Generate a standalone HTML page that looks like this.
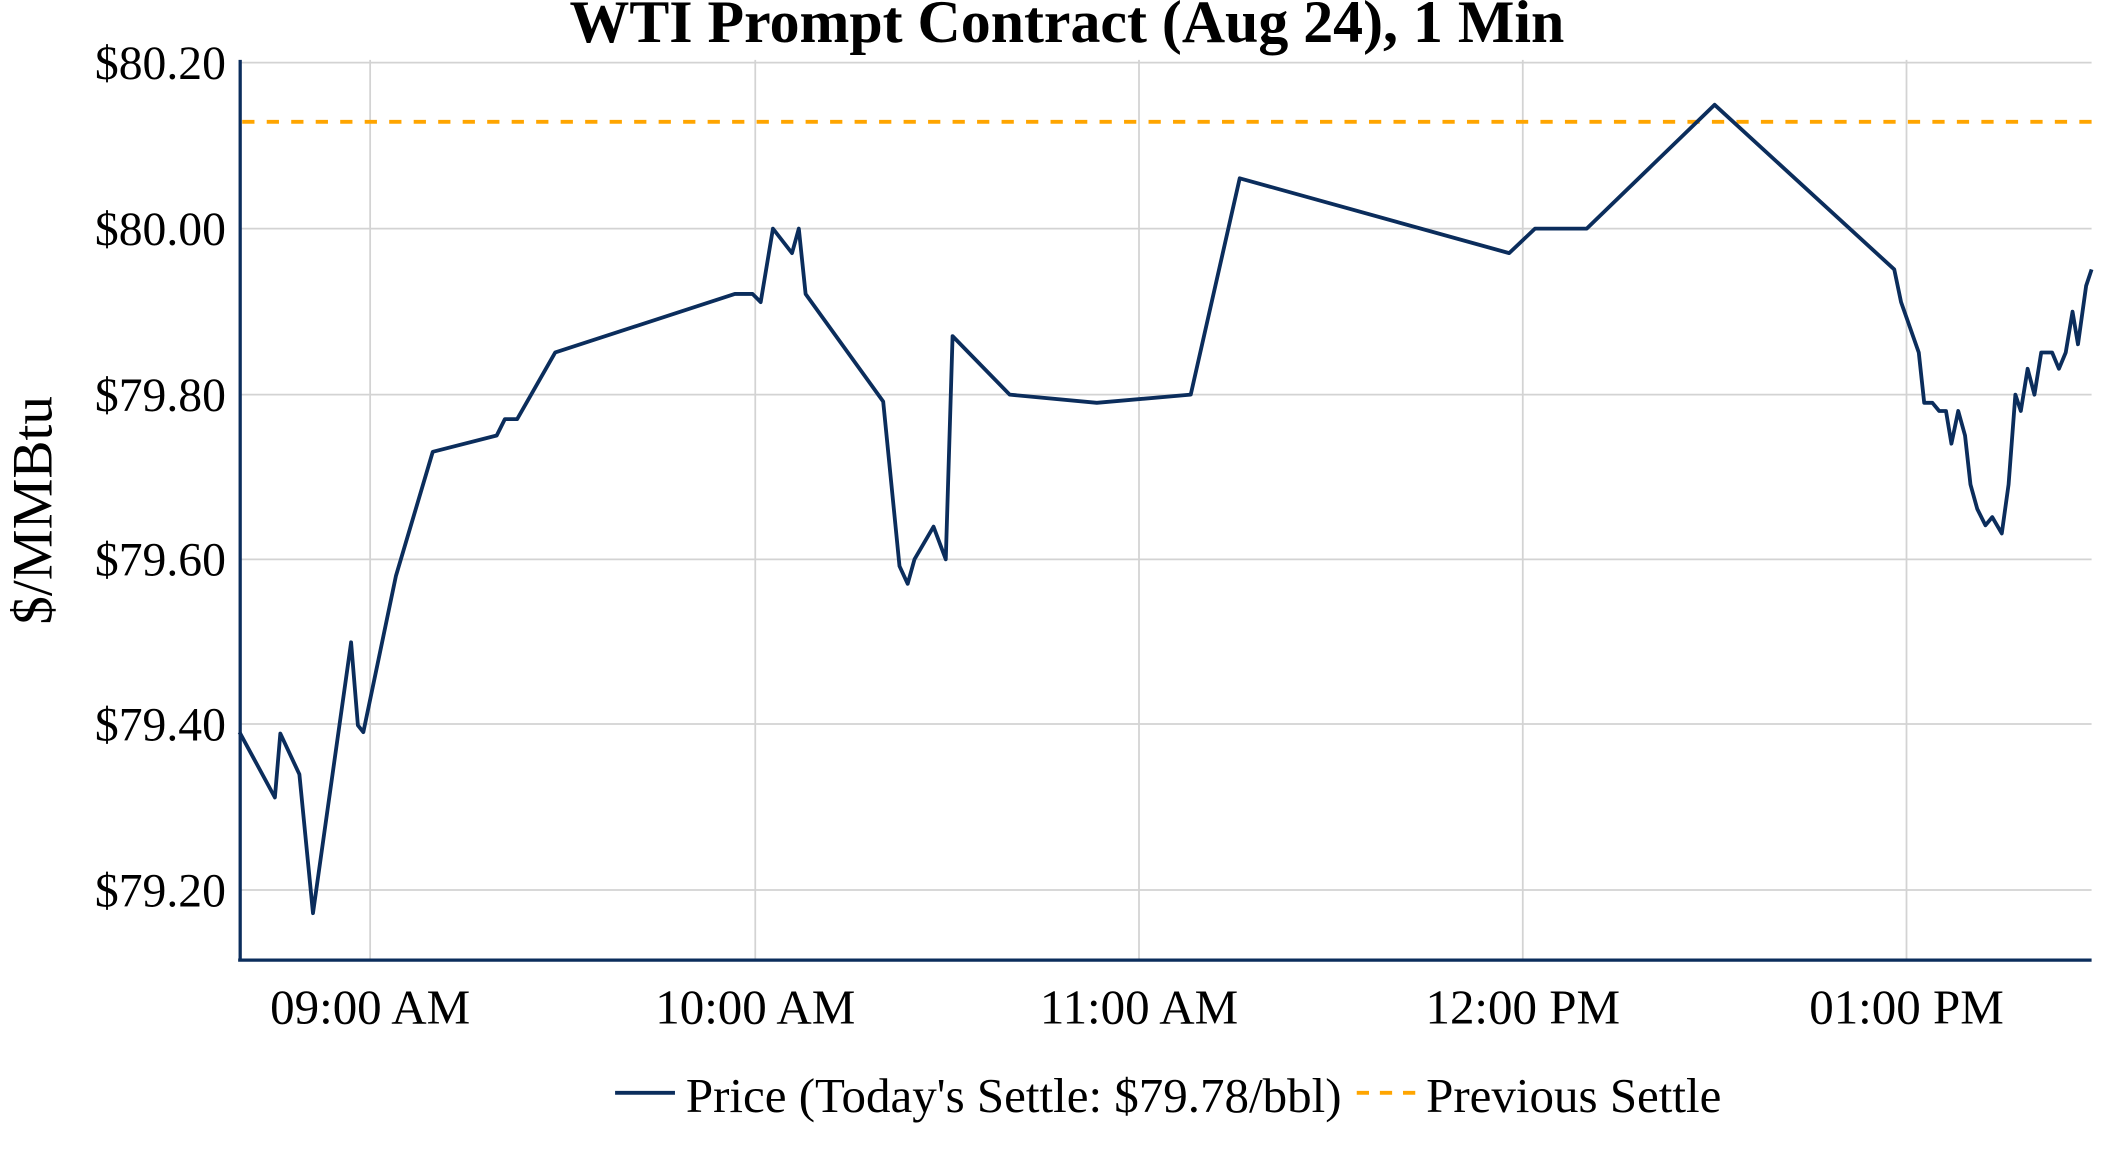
<!DOCTYPE html>
<html><head><meta charset="utf-8"><style>
html,body{margin:0;padding:0;background:#fff;width:2112px;height:1152px;overflow:hidden}
svg{display:block}
text{font-family:"Liberation Serif",serif;fill:#000}
</style></head><body>
<svg width="2112" height="1152" viewBox="0 0 1552 846.5" preserveAspectRatio="none">
<g stroke="#d3d3d3" stroke-width="1.3">
<line x1="176" y1="46" x2="1537" y2="46"/>
<line x1="176" y1="168" x2="1537" y2="168"/>
<line x1="176" y1="290" x2="1537" y2="290"/>
<line x1="176" y1="411" x2="1537" y2="411"/>
<line x1="176" y1="532" x2="1537" y2="532"/>
<line x1="176" y1="654" x2="1537" y2="654"/>
<line x1="272" y1="44" x2="272" y2="705"/>
<line x1="555" y1="44" x2="555" y2="705"/>
<line x1="837" y1="44" x2="837" y2="705"/>
<line x1="1119" y1="44" x2="1119" y2="705"/>
<line x1="1401" y1="44" x2="1401" y2="705"/>
</g>
<line x1="178" y1="89.5" x2="1537" y2="89.5" stroke="#ffa500" stroke-width="2.8" stroke-dasharray="9,9"/>
<polyline fill="none" stroke="#0b2d5c" stroke-width="2.8" stroke-linejoin="round" points="176,538 202,586 206,539 220,569 230,671 258,472 263,533 267,538 291,423 318,332 365,320 371,308 380,308 408,259 540,216 553,216 559,222 563,198 568,168 582,186 587,168 592,216 605,234 649,295 661,416 667,429 672,411 686,387 695,411 700,247 742,290 806,296 875,290 911,131 1109,186 1128,168 1166,168 1260,77 1392,198 1397,222 1410,259 1414,296 1420,296 1425,302 1430,302 1434,326 1439,302 1444,320 1448,356 1453,374 1459,386 1464,380 1471,392 1476,356 1481,290 1485,302 1490,271 1495,290 1500,259 1508,259 1513,271 1518,259 1523,229 1527,253 1533,210 1537,198"/>
<line x1="176.5" y1="44" x2="176.5" y2="706" stroke="#0b2d5c" stroke-width="2.4"/>
<line x1="175" y1="705.5" x2="1537" y2="705.5" stroke="#0b2d5c" stroke-width="2.4"/>
<text x="784" y="31" text-anchor="middle" font-size="44" font-weight="bold">WTI Prompt Contract (Aug 24), 1 Min</text>
<g font-size="35" text-anchor="end">
<text x="166" y="58">$80.20</text>
<text x="166" y="180">$80.00</text>
<text x="166" y="302">$79.80</text>
<text x="166" y="423">$79.60</text>
<text x="166" y="544">$79.40</text>
<text x="166" y="666">$79.20</text>
</g>
<g font-size="36" text-anchor="middle">
<text x="272" y="752">09:00 AM</text>
<text x="555" y="752">10:00 AM</text>
<text x="837" y="752">11:00 AM</text>
<text x="1119" y="752">12:00 PM</text>
<text x="1401" y="752">01:00 PM</text>
</g>
<text transform="translate(38,375) rotate(-90)" font-size="42" text-anchor="middle">$/MMBtu</text>
<line x1="452" y1="803" x2="496" y2="803" stroke="#0b2d5c" stroke-width="2.8"/>
<text x="504" y="817" font-size="36">Price (Today's Settle: $79.78/bbl)</text>
<line x1="997" y1="803" x2="1041" y2="803" stroke="#ffa500" stroke-width="2.8" stroke-dasharray="9,8"/>
<text x="1048" y="817" font-size="36">Previous Settle</text>
</svg>
</body></html>
